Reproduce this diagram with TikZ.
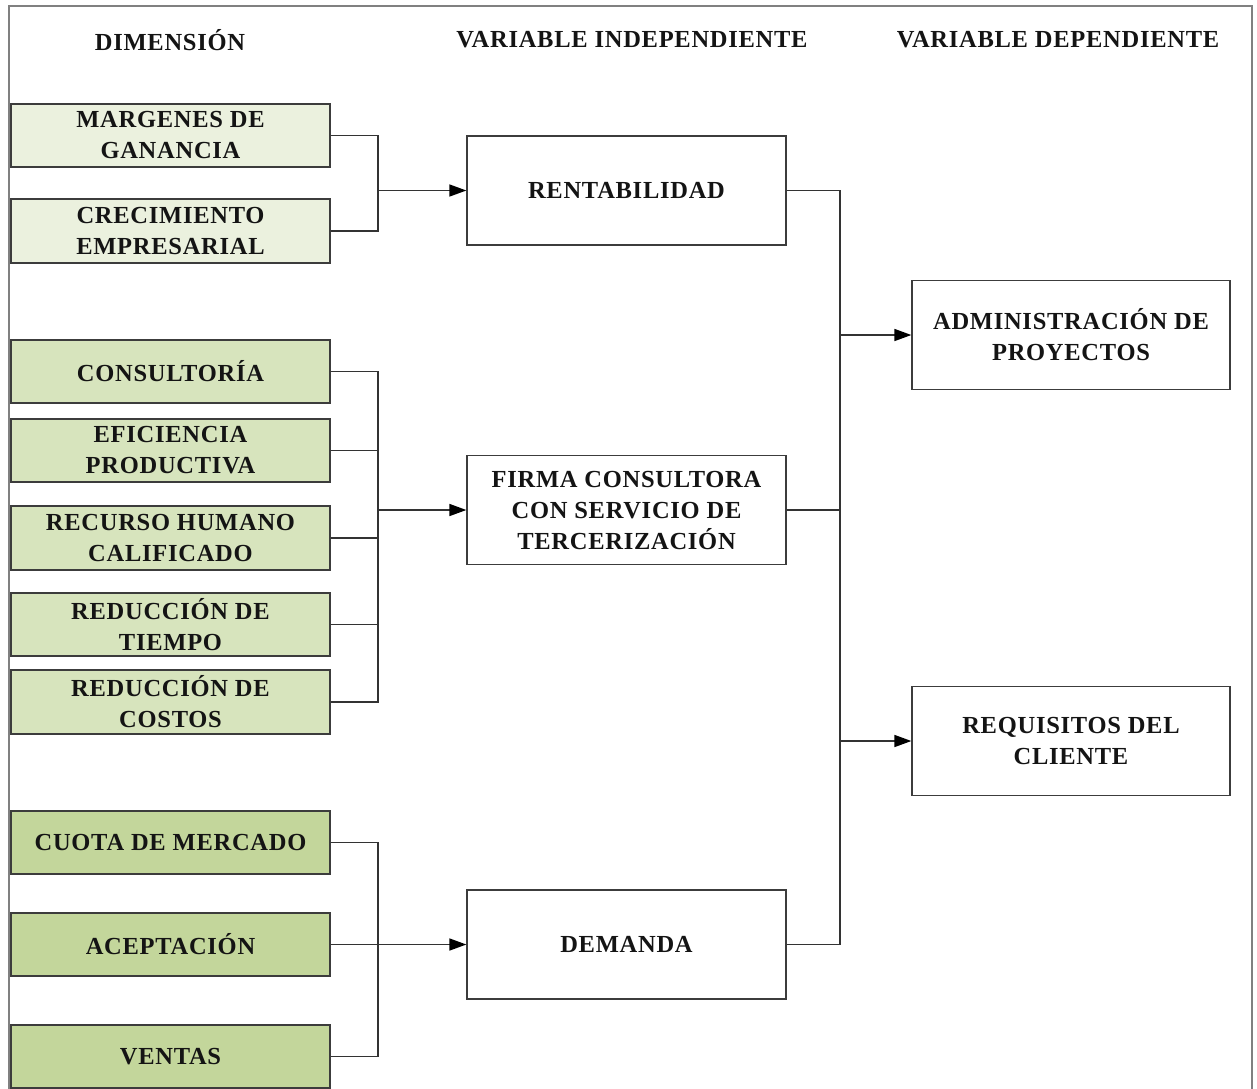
\documentclass[tikz,border=0pt]{standalone}
\usepackage{fontspec}
\setmainfont{Liberation Serif}[LetterSpace=3]
\usetikzlibrary{arrows.meta}
\definecolor{gA}{RGB}{235,241,222}
\definecolor{gB}{RGB}{215,228,189}
\definecolor{gC}{RGB}{195,214,155}
\definecolor{edge}{RGB}{60,60,60}
\begin{document}
\begin{tikzpicture}[x=1pt,y=-1pt,
  txt/.style={font=\bfseries\fontsize{24.5}{31}\selectfont, align=center, text=black!92},
  dimbox/.style={txt, draw=edge, line width=1.3pt, minimum width=319pt, inner sep=0pt},
  varbox/.style={txt, draw=edge, line width=1.3pt, fill=white, minimum width=319pt, minimum height=109pt, inner sep=0pt},
  wire/.style={draw=black!80, line width=1.6pt},
  arr/.style={wire, -{Triangle[length=17pt,width=12pt,fill=black,color=black]}}]
\useasboundingbox (0,0) rectangle (1257,1088);
\clip (0,0) rectangle (1257,1088);
% frame
\draw[black!50, line width=2pt] (9,1100) -- (9,6) -- (1252,6) -- (1252,1100);
% headers
\node[txt] (h1) at (170,40) {DIMENSIÓN};
\node[txt] (h2) at (632,40) {VARIABLE INDEPENDIENTE};
\node[txt] (h3) at (1058,40) {VARIABLE DEPENDIENTE};
% dimension boxes
\node[dimbox, fill=gA, minimum height=63pt] (marg) at (170.5,135.5) {MARGENES DE\\GANANCIA};
\node[dimbox, fill=gA, minimum height=64pt] (crec) at (170.5,231) {CRECIMIENTO\\EMPRESARIAL};
\node[dimbox, fill=gB, minimum height=63pt] (cons) at (170.5,371.5) {CONSULTORÍA};
\node[dimbox, fill=gB, minimum height=63pt] (efic) at (170.5,450.5) {EFICIENCIA\\PRODUCTIVA};
\node[dimbox, fill=gB, minimum height=64pt] (recu) at (170.5,538) {RECURSO HUMANO\\CALIFICADO};
\node[dimbox, fill=gB, minimum height=63pt] (tiem) at (170.5,624.5) {REDUCCIÓN DE\\TIEMPO};
\node[dimbox, fill=gB, minimum height=64pt] (cost) at (170.5,702) {REDUCCIÓN DE\\COSTOS};
\node[dimbox, fill=gC, minimum height=63pt] (cuot) at (170.5,842.5) {CUOTA DE MERCADO};
\node[dimbox, fill=gC, minimum height=63pt] (acep) at (170.5,944.5) {ACEPTACIÓN};
\node[dimbox, fill=gC, minimum height=63pt] (vent) at (170.5,1056.5) {VENTAS};
% independent variable boxes
\node[varbox] (rent) at (626.5,190.5) {RENTABILIDAD};
\node[varbox] (firm) at (626.5,510) {FIRMA CONSULTORA\\CON SERVICIO DE\\TERCERIZACIÓN};
\node[varbox] (dema) at (626.5,944.5) {DEMANDA};
% dependent variable boxes
\node[varbox, minimum width=318pt] (admi) at (1071,335) {ADMINISTRACIÓN DE\\PROYECTOS};
\node[varbox, minimum width=318pt] (requ) at (1071,741) {REQUISITOS DEL\\CLIENTE};
% junctions
\coordinate (b1) at (378,190.5);
\coordinate (b2) at (378,510);
\coordinate (b3) at (378,944.5);
\coordinate (cA) at (840,335);
\coordinate (cB) at (840,741);
% group 1
\draw[wire] (marg.east) -| (b1);
\draw[wire] (crec.east) -| (b1);
\draw[arr] (b1) -- (rent.west);
% group 2
\draw[wire] (cons.east) -| (b2);
\draw[wire] (efic.east) -| (b2);
\draw[wire] (recu.east) -| (b2);
\draw[wire] (tiem.east) -| (b2);
\draw[wire] (cost.east) -| (b2);
\draw[arr] (b2) -- (firm.west);
% group 3
\draw[wire] (cuot.east) -| (b3);
\draw[wire] (acep.east) -- (b3);
\draw[wire] (vent.east) -| (b3);
\draw[arr] (b3) -- (dema.west);
% right side
\draw[wire] (rent.east) -| (cA);
\draw[wire] (dema.east) -| (cB);
\draw[wire] (cA) -- (cB);
\draw[wire] (firm.east) -- (firm.east -| cA);
\draw[arr] (cA) -- (admi.west);
\draw[arr] (cB) -- (requ.west);
\end{tikzpicture}
\end{document}
